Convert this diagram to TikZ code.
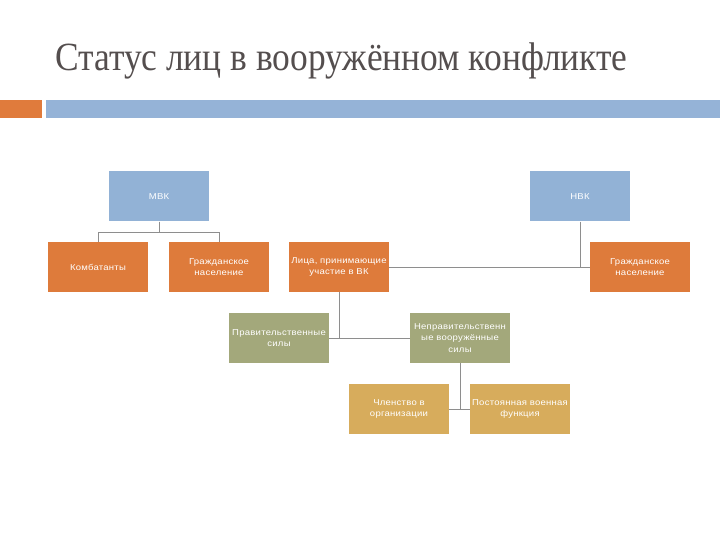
\documentclass[tikz,border=0pt]{standalone}
\usepackage{fontspec}
\setmainfont{Liberation Serif}
\newfontfamily\titlefont[FakeStretch=0.885]{Liberation Serif}
\newfontfamily\boxfont[FakeStretch=1.12,LetterSpace=3]{Liberation Sans}
\definecolor{barblue}{HTML}{95B3D7}
\definecolor{barorange}{HTML}{E07B3C}
\definecolor{boxblue}{HTML}{92B2D6}
\definecolor{boxorange}{HTML}{DE7B3B}
\definecolor{boxolive}{HTML}{A3A87B}
\definecolor{boxgold}{HTML}{D7AC5C}
\definecolor{titlegrey}{HTML}{544E4E}
\definecolor{linkgrey}{HTML}{8E8E8E}
\tikzset{
    box/.style={minimum width=100pt, minimum height=50pt, text width=100pt, inner sep=0pt,
        text=white, align=center, font=\boxfont\fontsize{8.5}{11.5}\selectfont},
    link/.style={-, draw=linkgrey, line width=0.8pt}
}
\begin{document}
\begin{tikzpicture}[x=1pt,y=-1pt]
    \useasboundingbox (0,0) rectangle (720,540);
    % title and bars
    \node[anchor=base west, inner sep=0pt, text=titlegrey] (title) at (55,71)
        {\titlefont\fontsize{40}{44}\selectfont Статус лиц в вооружённом конфликте};
    \fill[barorange] (0,100) rectangle (42,118);
    \fill[barblue] (46,100) rectangle (720,118);

    % top level
    \node[box, fill=boxblue] (mvk) at (159,196.5) {МВК};
    \node[box, fill=boxblue] (nvk) at (580,196.5) {НВК};

    % second level
    \node[box, fill=boxorange] (komb) at (98,267) {Комбатанты};
    \node[box, fill=boxorange] (civa) at (219,267) {Гражданское\\население};
    \node[box, fill=boxorange] (lica) at (339,267) {Лица, принимающие\\участие в ВК};
    \node[box, fill=boxorange] (civb) at (640,267) {Гражданское\\население};

    % third level
    \node[box, fill=boxolive] (prav) at (279,338) {Правительственные\\силы};
    \node[box, fill=boxolive] (neprav) at (460,338) {Неправительственн\\ые вооружённые\\силы};

    % fourth level
    \node[box, fill=boxgold] (chlen) at (399,409) {Членство в\\организации};
    \node[box, fill=boxgold] (post) at (520,409) {Постоянная военная\\функция};

    % connectors
    \draw[link] (mvk.south) -- ++(0,11) -| (komb.north);
    \draw[link] (mvk.south) -- ++(0,11) -| (civa.north);
    \draw[link] (nvk.south) -- (nvk.south |- civb.west);
    \draw[link] (lica.east) -- (civb.west);
    \draw[link] (lica.south) -- (lica.south |- prav.east);
    \draw[link] (prav.east) -- (neprav.west);
    \draw[link] (neprav.south) -- (neprav.south |- chlen.east);
    \draw[link] (chlen.east) -- (post.west);
\end{tikzpicture}
\end{document}
